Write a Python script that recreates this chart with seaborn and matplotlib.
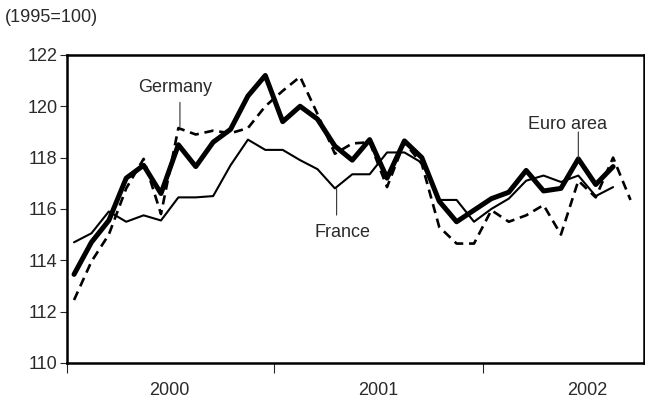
import numpy as np
import pandas as pd
import seaborn as sns
import matplotlib.pyplot as plt

# monthly index, Jan 2000 = 0
euro_area = [113.45, 114.7, 115.55, 117.2, 117.7, 116.6, 118.5, 117.65, 118.6, 119.1,
             120.4, 121.2, 119.4, 120.0, 119.5, 118.45, 117.9, 118.7, 117.2, 118.65,
             118.0, 116.3, 115.5, 115.95, 116.4, 116.65, 117.5, 116.7, 116.8, 117.95,
             116.95, 117.65]
france = [114.7, 115.05, 115.9, 115.5, 115.75, 115.55, 116.45, 116.45, 116.5, 117.7,
          118.7, 118.3, 118.3, 117.9, 117.55, 116.8, 117.35, 117.35, 118.2, 118.2,
          117.8, 116.35, 116.35, 115.5, 116.0, 116.4, 117.1, 117.3, 117.05, 117.3,
          116.5, 116.85]
germany = [112.45, 113.95, 115.0, 116.8, 117.95, 115.8, 119.15, 118.9, 119.05, 118.95,
           119.15, 120.0, 120.6, 121.15, 119.7, 118.15, 118.55, 118.6, 116.85, 118.6,
           117.75, 115.3, 114.65, 114.65, 115.95, 115.5, 115.75, 116.15, 115.0, 117.1,
           116.45, 118.0, 116.35]
years = ["2000", "2001", "2002"]
y_ticks = [110, 112, 114, 116, 118, 120, 122]

sns.set_style("ticks")
plt.rcParams['font.family'] = ['Liberation Sans', 'DejaVu Sans']
txt = "#2a2a2a"

fig = plt.figure(figsize=(6.45, 4.01), dpi=100)
ax = fig.add_axes([0.104, 0.095, 0.894, 0.768])

df_de = pd.DataFrame({"month": np.arange(len(germany)), "value": germany})
df_fr = pd.DataFrame({"month": np.arange(len(france)), "value": france})
df_ea = pd.DataFrame({"month": np.arange(len(euro_area)), "value": euro_area})

sns.lineplot(data=df_de, x="month", y="value", ax=ax, color="black", lw=1.9)
ax.lines[-1].set_dashes([3.5, 2.2])
sns.lineplot(data=df_fr, x="month", y="value", ax=ax, color="black", lw=1.5)
sns.lineplot(data=df_ea, x="month", y="value", ax=ax, color="black", lw=3.6)

ax.set_xlim(-0.4, 32.76)
ax.set_ylim(110, 122)
ax.set_yticks(y_ticks)
ax.set_yticklabels([str(t) for t in y_ticks], fontsize=13, color=txt)
ax.set_xticks([-0.4, 11.5, 23.5])
ax.set_xticklabels([])
ax.set_xticks([5.5, 17.5, 29.5], minor=True)
ax.set_xticklabels(years, minor=True, fontsize=13, color=txt)
ax.tick_params(axis="x", which="major", length=7, width=0.8, direction="out")
ax.tick_params(axis="x", which="minor", length=0, pad=14)
ax.tick_params(axis="y", length=5, width=0.8, direction="out", pad=2)
ax.set_xlabel("")
ax.set_ylabel("")

for s in ax.spines.values():
    s.set_linewidth(1.8)
    s.set_color("black")

# series labels with pointer lines
pointer = dict(arrowstyle="-", color="#333333", lw=0.8, shrinkA=0, shrinkB=0)
ax.annotate("", xy=(6.09, 119.2), xytext=(6.09, 120.15), arrowprops=pointer)
ax.text(5.8, 120.55, "Germany", ha="center", va="baseline", fontsize=13, color=txt)
ax.annotate("", xy=(15.1, 116.8), xytext=(15.1, 115.76), arrowprops=pointer)
ax.text(15.45, 114.9, "France", ha="center", va="baseline", fontsize=13, color=txt)
ax.annotate("", xy=(29.0, 117.98), xytext=(29.0, 119.0), arrowprops=pointer)
ax.text(28.4, 119.1, "Euro area", ha="center", va="baseline", fontsize=13, color=txt)

fig.text(5 / 645, 1 - 18 / 401, "(1995=100)", ha="left", va="center", fontsize=13,
         color=txt)

fig.savefig("out.png", dpi=100)
